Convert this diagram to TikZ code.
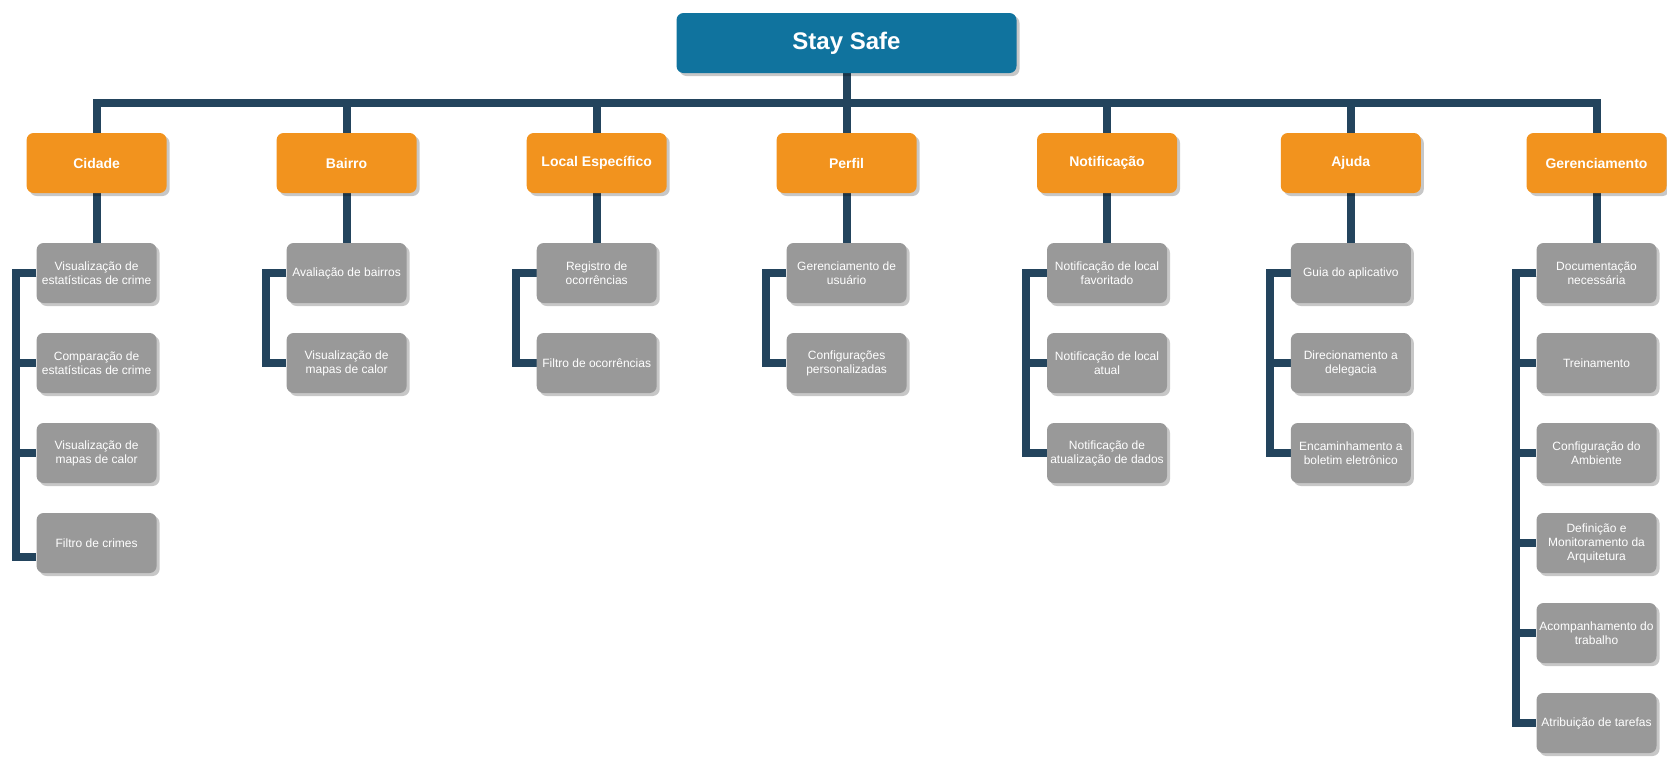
\documentclass[tikz,border=0pt]{standalone}
\usepackage{fontspec}
\setmainfont{Liberation Sans}
\usetikzlibrary{shadows}
\pgfdeclarelayer{bg}
\pgfsetlayers{bg,main}
\definecolor{rootblue}{HTML}{10739E}
\definecolor{catorange}{HTML}{F2931E}
\definecolor{childgray}{HTML}{999999}
\definecolor{connblue}{HTML}{23445D}
\tikzset{
  box/.style={rectangle, rounded corners=7pt, text=white, align=center, inner sep=0pt,
    drop shadow={shadow xshift=3pt, shadow yshift=-3pt, fill=black, opacity=0.22}},
  rootbox/.style={box, fill=rootblue, minimum width=340pt, minimum height=60pt,
    font=\fontsize{24}{28}\selectfont\bfseries},
  catbox/.style={box, fill=catorange, minimum width=140pt, minimum height=60pt,
    font=\fontsize{14}{17}\selectfont\bfseries},
  leaf/.style={box, fill=childgray, minimum width=120pt, minimum height=60pt,
    font=\fontsize{12}{14}\selectfont},
  conn/.style={draw=connblue, line width=8pt, line join=miter},
}
\begin{document}
\begin{tikzpicture}[x=1pt,y=-1pt]
\useasboundingbox (0,0) rectangle (1667,756);
% root
\node[rootbox] (root) at (846.5,43) {Stay Safe};
% categories
\node[catbox] (cid) at (96.6,163) {Cidade};
\node[catbox] (bai) at (346.6,163) {Bairro};
\node[catbox] (loc) at (596.7,163) {Local Específico};
\node[catbox] (per) at (846.6,163) {Perfil};
\node[catbox] (not) at (1107,163) {Notificação};
\node[catbox] (aju) at (1350.8,163) {Ajuda};
\node[catbox] (ger) at (1596.5,163) {Gerenciamento};
% Cidade children
\node[leaf] (cid1) at (96.6,273) {Visualização de\\estatísticas de crime};
\node[leaf] (cid2) at (96.6,363) {Comparação de\\estatísticas de crime};
\node[leaf] (cid3) at (96.6,453) {Visualização de\\mapas de calor};
\node[leaf] (cid4) at (96.6,543) {Filtro de crimes};
% Bairro children
\node[leaf] (bai1) at (346.6,273) {Avaliação de bairros};
\node[leaf] (bai2) at (346.6,363) {Visualização de\\mapas de calor};
% Local children
\node[leaf] (loc1) at (596.7,273) {Registro de\\ocorrências};
\node[leaf] (loc2) at (596.7,363) {Filtro de ocorrências};
% Perfil children
\node[leaf] (per1) at (846.6,273) {Gerenciamento de\\usuário};
\node[leaf] (per2) at (846.6,363) {Configurações\\personalizadas};
% Notificacao children
\node[leaf] (not1) at (1107,273) {Notificação de local\\favoritado};
\node[leaf] (not2) at (1107,363) {Notificação de local\\atual};
\node[leaf] (not3) at (1107,453) {Notificação de\\atualização de dados};
% Ajuda children
\node[leaf] (aju1) at (1350.8,273) {Guia do aplicativo};
\node[leaf] (aju2) at (1350.8,363) {Direcionamento a\\delegacia};
\node[leaf] (aju3) at (1350.8,453) {Encaminhamento a\\boletim eletrônico};
% Gerenciamento children
\node[leaf] (ger1) at (1596.5,273) {Documentação\\necessária};
\node[leaf] (ger2) at (1596.5,363) {Treinamento};
\node[leaf] (ger3) at (1596.5,453) {Configuração do\\Ambiente};
\node[leaf] (ger4) at (1596.5,543) {Definição e\\Monitoramento da\\Arquitetura};
\node[leaf] (ger5) at (1596.5,633) {Acompanhamento do\\trabalho};
\node[leaf] (ger6) at (1596.5,723) {Atribuição de tarefas};
\begin{pgfonlayer}{bg}
  % root to categories
  \foreach \c in {cid,bai,loc,per,not,aju,ger}
    \draw[conn] (root.south) -- ++(0,30) -| (\c.north);
  % category to first child
  \foreach \c in {cid,bai,loc,per,not,aju,ger}
    \draw[conn] (\c.south) -- (\c1.north);
  % brackets
  \draw[conn] (cid1.west) -- ++(-20.5,0) |- (cid2.west);
  \draw[conn] (cid1.west) -- ++(-20.5,0) |- (cid3.west);
  \draw[conn] (cid1.west) -- ++(-20.5,0) |- ([yshift=-14pt]cid4.west);
  \draw[conn] (bai1.west) -- ++(-20.5,0) |- (bai2.west);
  \draw[conn] (loc1.west) -- ++(-20.5,0) |- (loc2.west);
  \draw[conn] (per1.west) -- ++(-20.5,0) |- (per2.west);
  \draw[conn] (not1.west) -- ++(-20.5,0) |- (not2.west);
  \draw[conn] (not1.west) -- ++(-20.5,0) |- (not3.west);
  \draw[conn] (aju1.west) -- ++(-20.5,0) |- (aju2.west);
  \draw[conn] (aju1.west) -- ++(-20.5,0) |- (aju3.west);
  \foreach \k in {2,...,6}
    \draw[conn] (ger1.west) -- ++(-20.5,0) |- (ger\k.west);
\end{pgfonlayer}
\end{tikzpicture}
\end{document}
